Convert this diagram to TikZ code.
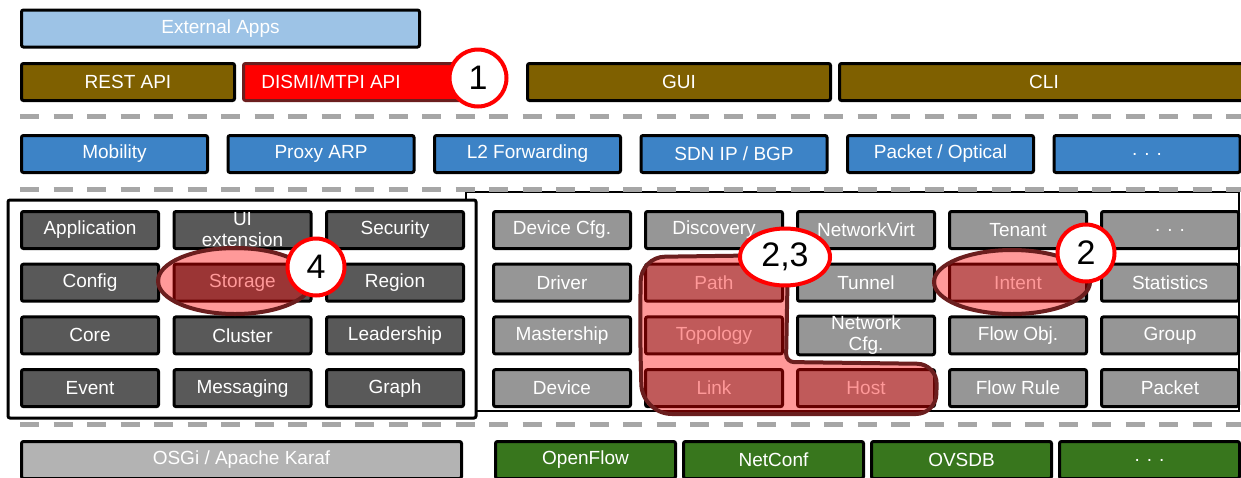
\documentclass[tikz,border=0pt]{standalone}
\usepackage{fontspec}
\setmainfont{Liberation Sans}
\usetikzlibrary{positioning,shapes.geometric}

\definecolor{extblue}{HTML}{9DC3E6}
\definecolor{apibrown}{HTML}{7F6000}
\definecolor{appblue}{HTML}{3D83C6}
\definecolor{coregray}{HTML}{595959}
\definecolor{svcgray}{HTML}{969696}
\definecolor{osgigray}{HTML}{B3B3B3}
\definecolor{sbgreen}{HTML}{38761D}
\definecolor{darkred}{HTML}{6B1E1E}
\definecolor{dashgray}{HTML}{A6A6A6}

\begin{document}
\begin{tikzpicture}[x=1pt, y=-1pt,
    box/.style={draw=black, line width=3pt, rounded corners=2pt, inner sep=0pt,
        minimum height=37pt, minimum width=137pt, text=white, align=center,
        font=\fontsize{19}{21}\selectfont},
    extbox/.style={box, fill=extblue},
    apibox/.style={box, fill=apibrown},
    appbox/.style={box, fill=appblue, minimum width=186pt},
    corebox/.style={box, fill=coregray},
    svcbox/.style={box, fill=svcgray},
    sbbox/.style={box, fill=sbgreen, minimum width=180pt},
    frame/.style={draw=black, line width=3pt, fill=white},
    sep/.style={draw=dashgray, line width=5pt, dash pattern=on 19pt off 14.5pt},
    hilite/.style={draw=darkred, line width=4pt, fill=red, fill opacity=0.4},
    callout/.style={circle, draw=red, line width=4pt, fill=white, inner sep=0pt,
        minimum size=57pt, font=\fontsize{34}{34}\selectfont}
]
\clip (0,0) rectangle (1241,477);

% frames round the two blocks
\draw[frame, line width=2.5pt] (466,192) rectangle (1239,411);
\draw[frame, rounded corners=2pt] (8,200) rectangle (476,418);

% separators
\draw[sep] (20,116) -- (1241,116);
\draw[sep] (20,189.5) -- (1241,189.5);
\draw[sep] (20,424) -- (1241,424);

% apps and APIs
\node[extbox, minimum width=398pt] (ext) at (220.5,28.5) {External Apps};
\node[apibox, minimum width=213pt] (rest) at (128,82) {REST API};
\node[box, fill=red, draw=darkred, minimum width=217pt, right=6pt of rest] (dismi) {DISMI/MTPI API\hspace*{42pt}};
\node[apibox, minimum width=303pt] (gui) at (679,82) {GUI};
\node[apibox, minimum width=409pt, right=6pt of gui] (cli) {CLI};

\node[appbox] (mob) at (114.5,154) {Mobility};
\node[appbox, right=17.5pt of mob] (parp) {Proxy ARP};
\node[appbox, right=17.5pt of parp] (l2fwd) {L2 Forwarding};
\node[appbox, right=17.5pt of l2fwd] (sdnip) {SDN IP / BGP};
\node[appbox, right=17.5pt of sdnip] (pktopt) {Packet / Optical};
\node[appbox, right=17.5pt of pktopt] (appmore) {. . .};

% distributed core
\node[corebox] (app) at (90,230) {Application};
\node[corebox, right=12.5pt of app] (uiext) {UI\\extension};
\node[corebox, right=12.5pt of uiext] (sec) {Security};
\node[corebox, below=12.7pt of app] (conf) {Config};
\node[corebox, right=12.5pt of conf] (stor) {Storage};
\node[corebox, right=12.5pt of stor] (reg) {Region};
\node[corebox, below=12.7pt of conf] (core) {Core};
\node[corebox, right=12.5pt of core] (clus) {Cluster};
\node[corebox, right=12.5pt of clus] (lead) {Leadership};
\node[corebox, below=12.7pt of core] (evt) {Event};
\node[corebox, right=12.5pt of evt] (msg) {Messaging};
\node[corebox, right=12.5pt of msg] (graph) {Graph};

% services
\node[svcbox] (devcfg) at (562,230) {Device Cfg.};
\node[svcbox, right=12pt of devcfg] (disc) {Discovery};
\node[svcbox, right=12pt of disc] (nvirt) {NetworkVirt};
\node[svcbox, right=12pt of nvirt] (ten) {Tenant};
\node[svcbox, right=12pt of ten] (svcmore) {. . .};
\node[svcbox, below=12.7pt of devcfg] (drv) {Driver};
\node[svcbox, right=12pt of drv] (path) {Path};
\node[svcbox, right=12pt of path] (tun) {Tunnel};
\node[svcbox, right=12pt of tun] (intent) {Intent};
\node[svcbox, right=12pt of intent] (stats) {Statistics};
\node[svcbox, below=12.7pt of drv] (mast) {Mastership};
\node[svcbox, right=12pt of mast] (topo) {Topology};
\node[svcbox, right=12pt of topo] (netcfg) {Network\\Cfg.};
\node[svcbox, right=12pt of netcfg] (flowobj) {Flow Obj.};
\node[svcbox, right=12pt of flowobj] (grp) {Group};
\node[svcbox, below=12.7pt of mast] (dev) {Device};
\node[svcbox, right=12pt of dev] (link) {Link};
\node[svcbox, right=12pt of link] (host) {Host};
\node[svcbox, right=12pt of host] (flowrule) {Flow Rule};
\node[svcbox, right=12pt of flowrule] (pkt) {Packet};

% platform and southbound
\node[box, fill=osgigray, minimum width=440pt] (osgi) at (241.5,460) {OSGi / Apache Karaf};
\node[sbbox] (of) at (585.5,460) {OpenFlow};
\node[sbbox, right=5pt of of] (ncf) {NetConf};
\node[sbbox, right=5pt of ncf] (ovsdb) {OVSDB};
\node[sbbox, right=5pt of ovsdb] (sbmore) {. . .};

% highlighted parts
\draw[hilite] (235,281) ellipse [x radius=77pt, y radius=33pt];
\draw[hilite] (1012,282) ellipse [x radius=78pt, y radius=32pt];
\draw[hilite, rounded corners=24pt] (640,330) -- (641,257) -- (788,255)
    [rounded corners=8pt] -- (786,362) [rounded corners=20pt] -- (937,364)
    -- (936,414) [rounded corners=30pt] -- (642,414) -- cycle;

% callouts
\node[callout] (n1) at (478,78) {1};
\node[callout] (n4) at (316,267) {4};
\node[callout, ellipse, minimum width=90pt, minimum height=57pt] (n23) at (785,257) {2,3};
\node[callout] (n2) at (1086,253) {2};
\end{tikzpicture}
\end{document}
